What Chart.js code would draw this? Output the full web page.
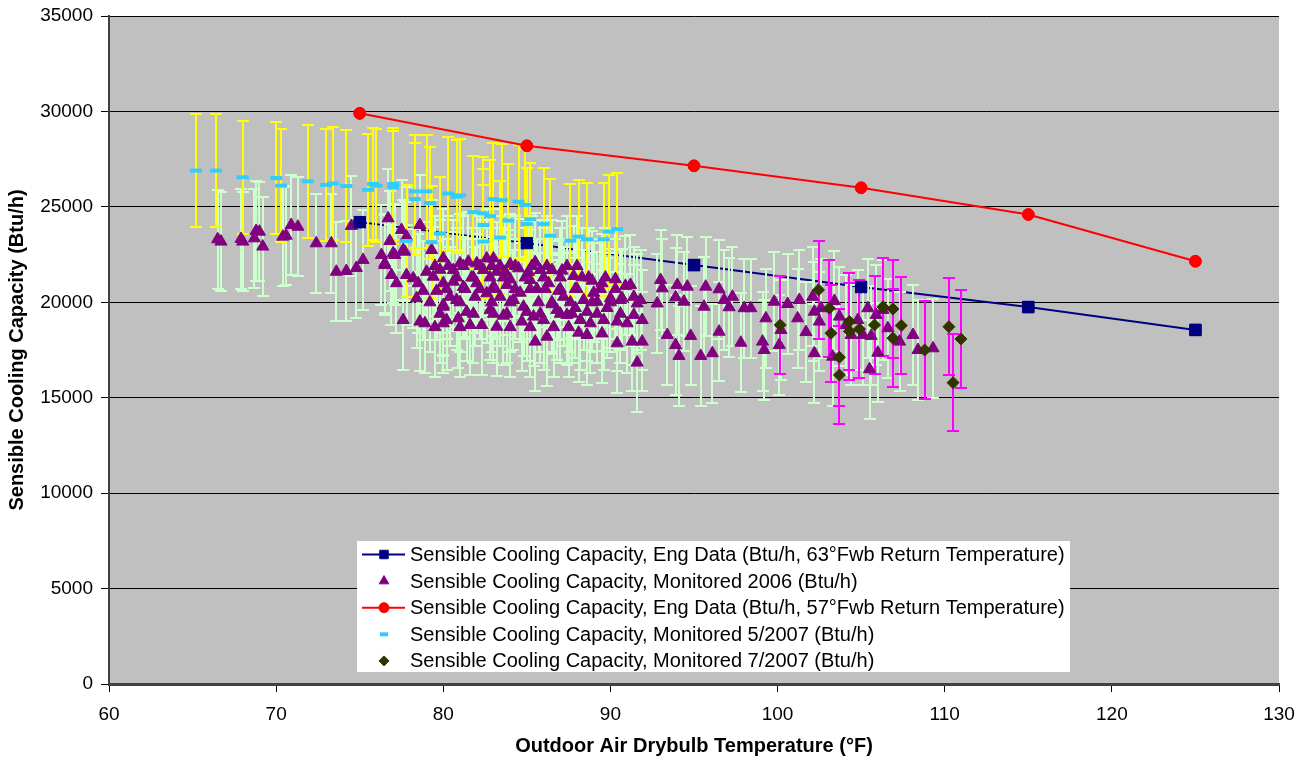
<!DOCTYPE html>
<html><head><meta charset="utf-8">
<script src="https://cdn.jsdelivr.net/npm/chart.js@4.4.1/dist/chart.umd.min.js"></script>
<style>html,body{margin:0;padding:0;background:#fff}#wrap{position:relative;width:1307px;height:761px}</style>
</head><body><div id="wrap"><canvas id="c"></canvas></div>
<script>
// ---- tick labels ----
const xTickValues = [60, 70, 80, 90, 100, 110, 120, 130];
const yTickValues = [0, 5000, 10000, 15000, 20000, 25000, 30000, 35000];

// ---- engineering data ----
const engTemps = [75, 85, 95, 105, 115, 125];
const eng63 = [24200, 23100, 21950, 20800, 19750, 18550];
const eng57 = [29900, 28200, 27150, 26000, 24600, 22150];

// ---- monitored 2006 ----
const mon2006X = [66.5,66.7,67.9,68.0,68.8,69.0,68.7,69.2,70.4,70.6,70.9,71.3,72.4,73.3,73.6,74.2,74.8,75.2,74.5,76.7,
76.8,77.5,77.8,78.6,79.3,80.0,76.3,76.5,77.1,77.6,76.9,77.2,77.8,78.2,78.5,79.0,79.4,80.0,78.4,80.0,
77.0,77.7,76.5,80.6,81.0,81.5,82.0,82.6,82.4,83.2,83.7,84.5,85.1,85.8,86.5,87.1,87.8,88.3,88.9,89.5,
90.3,90.9,91.2,77.6,78.6,78.9,80.0,80.2,80.9,81.6,82.3,83.2,80.4,80.8,81.9,82.6,83.4,84.2,84.8,84.7,
85.4,86.0,86.8,87.4,88.2,88.8,89.6,90.4,91.0,91.4,91.9,85.5,86.2,88.1,88.6,89.5,90.4,91.3,91.9,91.6,
85.2,82.0,83.0,83.8,80.6,87.2,88.4,89.2,90.0,90.6,91.6,80.0,90.7,91.4,91.8,92.8,93.0,93.1,94.0,94.6,
93.9,94.4,95.7,95.6,96.5,96.8,97.3,97.1,98.0,98.4,99.3,99.8,100.6,101.3,101.2,102.1,102.2,102.5,103.4,102.6,
101.7,103.7,104.1,104.8,105.4,105.9,106.3,106.6,107.3,108.1,108.4,109.3,104.4,105.1,105.6,106.0,105.5,93.4,93.9,94.1,
94.8,95.4,96.1,96.5,97.8,99.1,99.2,100.1,102.2,103.3,100.2,81.2,81.8,82.9,84.0,84.6,85.6,86.3,86.9,87.6,
88.0,89.0,89.8,85.0,83.6,82.8,81.4,86.5,87.9,88.6,83.0,84.0,85.5,79.6,78.8,79.8,
79.5,80.3,81.2,82.2,83.4,84.3,85.3,86.2,87.4,88.0,
80.8,81.7,82.8,83.6,84.9,86.0,87.0,88.7,89.7,
80.2,81.3,82.2,83.1,84.3,85.2,86.1,87.0,87.9,89.4,90.3,
79.2,81.0,82.9,84.0,85.7,86.5,88.9,90.0,
79.8,81.8,83.0,83.8,85.8,87.0,87.7,89.2,90.6,
79.5,81.0,84.0,85.2,86.6,87.5];
const mon2006Y = [23300,23180,23320,23180,23740,23700,23350,22920,23440,23490,24050,23960,23090,23090,21600,21640,21800,22220,24000,24400,
23210,23790,23440,24050,22740,22310,22480,22040,22480,22740,21430,21000,21430,21260,21000,21600,21340,21000,20210,19860,
22570,22650,21950,21690,22040,22130,22040,22300,21690,21600,21600,21780,21600,21690,21690,21660,21380,21310,21130,21000,
21210,20860,20910,19070,18990,18900,19770,19070,19160,18810,18810,18720,20290,20120,20290,20470,20290,20120,19770,18990,
19250,19070,19600,19340,19070,18900,19070,18990,18900,19340,19070,17940,18200,18410,18290,18370,17850,17940,17940,16840,
21170,21000,20820,20910,21080,20290,20120,20030,20210,20120,19940,18900,20210,20290,20120,19940,21170,20730,20910,20820,
20260,20030,20820,19770,20680,20120,20290,19740,19690,19690,19160,20030,19910,20120,19160,20290,19510,18990,20070,19690,
18440,19250,18810,19070,19690,19340,19600,18640,17940,18290,17500,17590,18290,18290,18240,17360,16490,18290,17760,17190,
18240,17190,17330,18460,17880,17940,17500,17760,17330,17150,18550,20800,21300,21900,21200,20500,20700,21000,20600,20000,
20700,20500,19700,19500,19300,19600,19500,19900,19700,19500,22300,22000,22100,20600,20600,21700,
21900,21900,21900,21900,21900,21900,21900,21900,21900,21900,
21300,21300,21300,21300,21300,21300,21300,21300,21300,
20700,20700,20700,20700,20700,20700,20700,20700,20700,20700,20700,
20000,20000,20000,20000,20000,20000,20000,20000,
19400,19400,19400,19400,19400,19400,19400,19400,19400,
18700,18700,18700,18700,18700,18700];

// ---- monitored 5/2007 ----
const may2007X = [65.2,66.4,68.0,70.0,70.3,71.9,73.0,73.4,74.2,75.5,75.8,76.0,77.0,77.0,78.3,79.0,79.2,78.3,77.8,79.3,
79.8,80.3,80.8,81.0,81.8,82.4,82.8,82.4,83.0,83.5,83.9,83.4,82.4,84.5,84.9,85.2,85.0,86.0,86.4,87.6,
88.1,88.6,89.6,89.9,90.4];
const may2007Y = [26900,26900,26550,26510,26110,26340,26150,26230,26090,25890,26200,26110,26200,26020,25810,25810,25200,25410,23210,23150,
23600,25700,25530,25600,24720,24660,24510,24050,25400,25350,24280,23390,23180,25270,25100,24350,24100,24100,23490,23230,
23440,23300,23300,23700,23830];

// ---- monitored 7/2007 ----
const jul2007X = [102.45,100.16,103.1,103.2,103.7,103.7,104.3,104.3,104.9,105.8,106.3,106.9,107.4,106.9,108.8,110.25,110.97,110.5];
const jul2007Y = [20650,18810,19690,18380,17120,16190,18990,18480,18600,18810,19760,19650,18780,18120,17500,18720,18080,15790];

// ---- error bar half-widths (Btu/h) ----
const err2006 = 2600;
const errMay2007 = 2950;
const errJul2007 = 2550;

const labels = [
  'Sensible Cooling Capacity, Eng Data (Btu/h, 63°Fwb Return Temperature)',
  'Sensible Cooling Capacity, Monitored 2006 (Btu/h)',
  'Sensible Cooling Capacity, Eng Data (Btu/h, 57°Fwb Return Temperature)',
  'Sensible Cooling Capacity, Monitored 5/2007 (Btu/h)',
  'Sensible Cooling Capacity, Monitored 7/2007 (Btu/h)'
];

const pts = (xs, ys) => xs.map((x, i) => ({x: x, y: ys[i]}));

Chart.defaults.font.family = "'Liberation Sans', Arial, sans-serif";
Chart.defaults.font.size = 19;
Chart.defaults.color = '#000';

const bgPlugin = {
  id: 'plotBg',
  beforeDraw(chart) {
    const {ctx, chartArea: a} = chart;
    ctx.save();
    ctx.fillStyle = '#C0C0C0';
    ctx.fillRect(a.left, a.top, a.right - a.left, a.bottom - a.top);
    ctx.restore();
  }
};

const errPlugin = {
  id: 'errBars',
  afterDatasetDraw(chart, args) {
    if (args.index !== 0) return;
    const {ctx, chartArea: a, scales} = chart;
    const xs = scales.x, ys = scales.y;
    ctx.save();
    ctx.beginPath();
    ctx.rect(a.left, a.top, a.right - a.left, a.bottom - a.top);
    ctx.clip();
    chart.data.datasets.forEach(ds => {
      const e = ds.errorBar;
      if (!e) return;
      ctx.strokeStyle = e.color;
      ctx.lineWidth = e.width;
      ctx.beginPath();
      ds.data.forEach(p => {
        const px = Math.round(xs.getPixelForValue(p.x));
        const t = Math.round(ys.getPixelForValue(p.y + e.value));
        const b = Math.round(ys.getPixelForValue(p.y - e.value));
        ctx.moveTo(px, t); ctx.lineTo(px, b);
        ctx.moveTo(px - e.cap, t); ctx.lineTo(px + e.cap, t);
        ctx.moveTo(px - e.cap, b); ctx.lineTo(px + e.cap, b);
      });
      ctx.stroke();
    });
    ctx.restore();
  },
  afterDatasetsDraw(chart) {
    // engineering-data markers sit above the monitored points (line stays below)
    const meta = chart.getDatasetMeta(0);
    meta.data.forEach(el => el.draw(chart.ctx, chart.chartArea));
    const red = chart.getDatasetMeta(2);
    red.data.forEach(el => el.draw(chart.ctx, chart.chartArea));
  }
};

const legendPlugin = {
  id: 'boxLegend',
  afterDraw(chart) {
    const ctx = chart.ctx;
    const box = {l: 357, t: 541, r: 1070, b: 672};
    ctx.save();
    ctx.fillStyle = '#fff';
    ctx.fillRect(box.l, box.t, box.r - box.l, box.b - box.t);
    const rowY0 = 554.5, rowStep = 26.6;
    chart.data.datasets.forEach((ds, i) => {
      const y = rowY0 + i * rowStep;
      const cx = 384;
      if (ds.showLine) {
        ctx.strokeStyle = ds.borderColor;
        ctx.lineWidth = ds.borderWidth;
        ctx.beginPath(); ctx.moveTo(362, y); ctx.lineTo(405, y); ctx.stroke();
      }
      ctx.fillStyle = ds.pointBackgroundColor;
      ctx.strokeStyle = ds.pointBorderColor;
      ctx.lineWidth = ds.legendBorder;
      Chart.helpers.drawPoint(ctx, {pointStyle: ds.pointStyle, rotation: 0, radius: ds.legendRadius, borderWidth: ds.legendBorder}, cx, y);
      ctx.fillStyle = '#000';
      ctx.font = "20px 'Liberation Sans', Arial, sans-serif";
      ctx.textBaseline = 'middle';
      ctx.textAlign = 'left';
      ctx.fillText(ds.label, 410, y + 1);
    });
    ctx.restore();
  }
};

new Chart(document.getElementById('c'), {
  type: 'scatter',
  data: {
    datasets: [
      {
        label: labels[0], data: pts(engTemps, eng63), showLine: true, order: 5,
        borderColor: '#000080', borderWidth: 2,
        pointStyle: 'rect', pointRadius: 8, pointBackgroundColor: '#000080', pointBorderColor: '#000080', pointBorderWidth: 1,
        legendRadius: 6, legendBorder: 1
      },
      {
        label: labels[1], data: pts(mon2006X, mon2006Y), showLine: false, order: 4,
        pointStyle: 'triangle', pointRadius: 7, pointBackgroundColor: '#800080', pointBorderColor: '#800080', pointBorderWidth: 1,
        legendRadius: 5.5, legendBorder: 1,
        errorBar: {value: err2006, color: '#CCFFCC', width: 2, cap: 6}
      },
      {
        label: labels[2], data: pts(engTemps, eng57), showLine: true, order: 1,
        borderColor: '#FF0000', borderWidth: 2,
        pointStyle: 'circle', pointRadius: 5.8, pointBackgroundColor: '#FF0000', pointBorderColor: '#FF0000', pointBorderWidth: 1,
        legendRadius: 5, legendBorder: 1
      },
      {
        label: labels[3], data: pts(may2007X, may2007Y), showLine: false, order: 3,
        pointStyle: 'line', pointRadius: 6, pointBackgroundColor: '#33CCFF', pointBorderColor: '#33CCFF', pointBorderWidth: 4,
        legendRadius: 4, legendBorder: 4,
        errorBar: {value: errMay2007, color: '#FFFF00', width: 2, cap: 6}
      },
      {
        label: labels[4], data: pts(jul2007X, jul2007Y), showLine: false, order: 2,
        pointStyle: 'rectRot', pointRadius: 6, pointBackgroundColor: '#333300', pointBorderColor: '#333300', pointBorderWidth: 1,
        legendRadius: 5, legendBorder: 1,
        errorBar: {value: errJul2007, color: '#FF00FF', width: 2, cap: 6}
      }
    ]
  },
  options: {
    responsive: true,
    maintainAspectRatio: false,
    animation: false,
    events: [],
    layout: {padding: {top: 16, right: 28, bottom: 0, left: 0}},
    plugins: {legend: {display: false}, tooltip: {enabled: false}},
    scales: {
      x: {
        type: 'linear', position: 'bottom', min: 60, max: 130,
        afterBuildTicks: s => { s.ticks = xTickValues.map(v => ({value: v})); },
        afterFit: s => { s.height = 77; s.paddingLeft = 0; s.paddingRight = 0; },
        ticks: {color: '#000', padding: 11, maxRotation: 0, autoSkip: false, callback: v => String(v)},
        grid: {drawOnChartArea: false, tickLength: 8, color: '#000', lineWidth: 1},
        border: {color: '#404040', width: 3},
        title: {display: true, text: 'Outdoor Air Drybulb Temperature (°F)', color: '#000',
          font: {weight: 'bold', size: 20}, padding: {top: 0, bottom: 3}}
      },
      y: {
        type: 'linear', position: 'left', min: 0, max: 35000,
        afterBuildTicks: s => { s.ticks = yTickValues.map(v => ({value: v})); },
        afterFit: s => { s.width = 109; s.paddingTop = 0; s.paddingBottom = 0; },
        ticks: {color: '#000', padding: 8, callback: v => String(v)},
        grid: {color: '#000', lineWidth: 1, tickLength: 8},
        border: {color: '#404040', width: 2},
        title: {display: true, text: 'Sensible Cooling Capacity (Btu/h)', color: '#000',
          font: {weight: 'bold', size: 20}, padding: {top: 5, bottom: 0}}
      }
    }
  },
  plugins: [bgPlugin, errPlugin, legendPlugin]
});
</script>
</body></html>
